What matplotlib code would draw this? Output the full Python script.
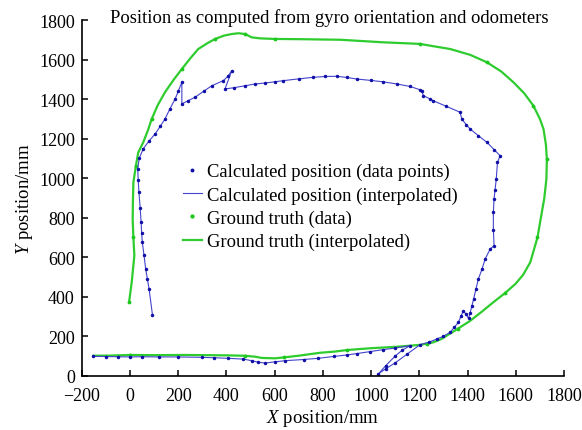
import numpy as np
import matplotlib
matplotlib.use('Agg')
import matplotlib.pyplot as plt

plt.rcParams['font.family'] = ['Liberation Serif', 'DejaVu Serif']
plt.rcParams['mathtext.fontset'] = 'custom'
plt.rcParams['mathtext.it'] = 'Liberation Serif:italic'
plt.rcParams['mathtext.rm'] = 'Liberation Serif'

# calculated track (gyro + odometers), mm
calc_x = [93, 79, 72, 65, 58, 51, 48, 46, 42, 37, 34, 32, 38, 55, 80, 104, 125, 145,
          165, 187, 200, 215, 215, 240, 270, 305, 339, 387, 405, 422, 394, 430, 477,
          519, 560, 600, 636, 700, 761, 810, 858, 900, 941, 1000, 1050, 1107, 1160,
          1203, 1210, 1217, 1245, 1258, 1310, 1369, 1376, 1395, 1411, 1445, 1480,
          1510, 1535, 1524, 1519, 1514, 1510, 1507, 1507, 1510, 1494, 1473, 1460,
          1445, 1435, 1425, 1418, 1410, 1404, 1394, 1383, 1372, 1362, 1345, 1328,
          1300, 1273, 1240, 1203, 1150, 1100, 1060, 1030, 1060, 1100, 1130, 1162,
          1100, 1050, 996, 940, 900, 848, 781, 720, 643, 600, 560, 532, 505, 470,
          408, 350, 297, 200, 120, 49, 0, -50, -100, -152]
calc_y = [309, 439, 490, 540, 610, 675, 725, 777, 850, 929, 990, 1047, 1100, 1150,
          1190, 1224, 1262, 1300, 1350, 1401, 1440, 1486, 1376, 1392, 1410, 1440,
          1468, 1494, 1515, 1544, 1452, 1458, 1468, 1477, 1482, 1488, 1494, 1503,
          1511, 1515, 1516, 1510, 1502, 1495, 1488, 1477, 1465, 1448, 1440, 1418,
          1401, 1392, 1365, 1334, 1300, 1270, 1249, 1215, 1182, 1145, 1114, 1080,
          996, 940, 896, 827, 740, 658, 642, 591, 540, 490, 440, 388, 354, 315, 290,
          310, 329, 300, 270, 245, 220, 200, 186, 170, 157, 110, 65, 35, 9, 50, 100,
          130, 152, 140, 132, 122, 112, 105, 98, 88, 82, 76, 70, 64, 68, 76, 84, 88,
          91, 93, 95, 95, 96, 95, 96, 97, 98]

# ground truth track, mm
gt_x = [-4, 7, 14, 18, 14, 11, 12, 14, 24, 34, 55, 75, 90, 115, 145, 180, 215, 250,
        283, 320, 353, 390, 422, 450, 477, 490, 505, 540, 602, 700, 872, 1051, 1203,
        1245, 1328, 1410, 1480, 1540, 1590, 1635, 1673, 1700, 1715, 1725, 1729,
        1727, 1718, 1708, 1690, 1660, 1630, 1598, 1555, 1507, 1460, 1411, 1360,
        1314, 1290, 1258, 1230, 1203, 1100, 996, 900, 848, 788, 698, 640, 602, 546,
        520, 477, 400, 228, 100, 0, -80, -152]
gt_y = [372, 473, 560, 608, 700, 793, 880, 979, 1060, 1130, 1182, 1245, 1300, 1370,
        1435, 1497, 1553, 1607, 1654, 1683, 1705, 1722, 1730, 1734, 1730, 1722, 1713,
        1708, 1705, 1704, 1701, 1688, 1680, 1671, 1654, 1625, 1587, 1540, 1486, 1430,
        1367, 1300, 1249, 1170, 1097, 996, 896, 827, 700, 574, 510, 464, 418, 372,
        325, 278, 238, 203, 185, 169, 162, 156, 146, 139, 130, 122, 116, 101, 93, 88,
        90, 96, 101, 103, 105, 104, 105, 102, 101]

fig = plt.figure(figsize=(5.82, 4.31), dpi=100)
ax = fig.add_axes([81.8 / 582, 1 - 376.7 / 431, (564 - 81.8) / 582, (376.7 - 21.2) / 431])

h_gl, = ax.plot(gt_x, gt_y, color='#2ecc2e', lw=1.6, label='Ground truth (interpolated)')
h_gd, = ax.plot(gt_x[::4], gt_y[::4], ls='none', marker='.', ms=3.5, color='#1fc81f',
                label='Ground truth (data)')
h_cl, = ax.plot(calc_x, calc_y, color='#4444cc', lw=0.8, label='Calculated position (interpolated)')
h_cd, = ax.plot(calc_x, calc_y, ls='none', marker='.', ms=3, color='#1010a8',
                label='Calculated position (data points)')

ax.set_xlim(-200, 1800)
ax.set_ylim(0, 1800)
ax.set_xticks(np.arange(-200, 1801, 200))
ax.set_yticks(np.arange(0, 1801, 200))
ax.xaxis.set_major_formatter(matplotlib.ticker.FuncFormatter(lambda v, p: '%d' % v if v >= 0 else '\u2212%d' % -v))
ax.spines['top'].set_visible(False)
ax.spines['right'].set_visible(False)
for s in ['left', 'bottom']:
    ax.spines[s].set_linewidth(1.2)
ax.tick_params(direction='in', length=4.5, width=1.1, labelsize=13)
ax.tick_params(axis='x', pad=8)
ax.tick_params(axis='y', pad=5)

ax.set_xlabel('$X$ position/mm', fontsize=13.5, labelpad=2)
ax.set_ylabel('$Y$ position/mm', fontsize=13.5, labelpad=3)

fig.text(329 / 582, 1 - 18 / 431, 'Position as computed from gyro orientation and odometers',
         ha='center', va='center', fontsize=13.4)

ax.legend(handles=[h_cd, h_cl, h_gd, h_gl], loc='upper left',
          bbox_to_anchor=(183 / 582, 1 - 164 / 431), bbox_transform=fig.transFigure,
          frameon=False, fontsize=13.4, handlelength=1.0, handletextpad=0.3,
          labelspacing=0.32, markerscale=1.2, borderaxespad=0, borderpad=0)

fig.savefig('out.png', dpi=100)
